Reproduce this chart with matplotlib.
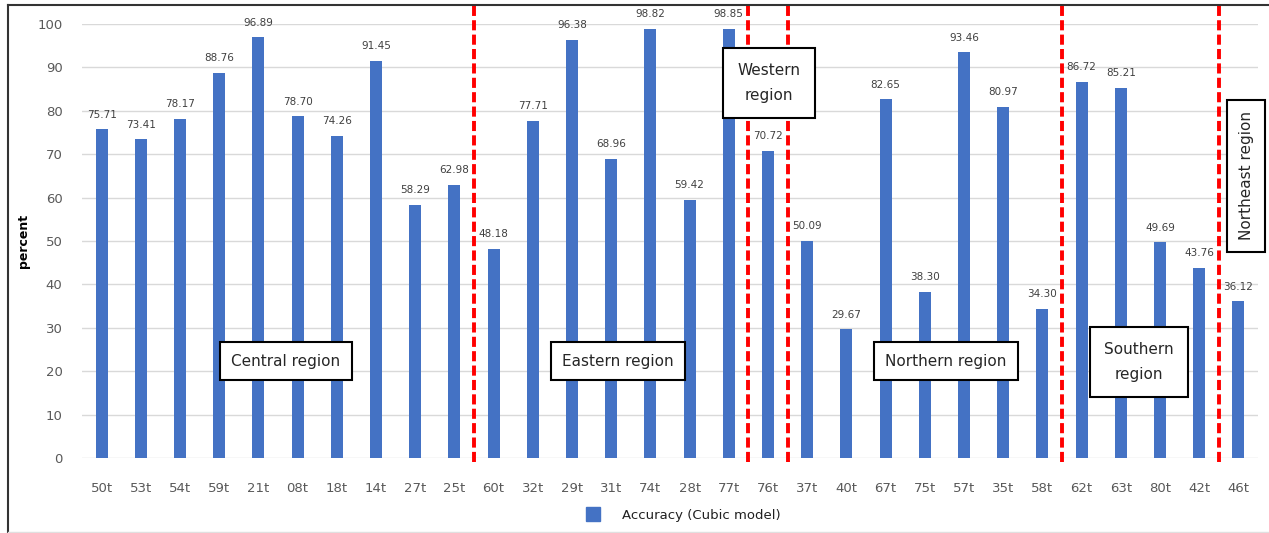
import matplotlib
matplotlib.use("Agg")
import matplotlib.pyplot as plt
from matplotlib.lines import Line2D

# Stations and accuracy of the cubic model (percent)
stations = ["50t", "53t", "54t", "59t", "21t", "08t", "18t", "14t", "27t", "25t",
            "60t", "32t", "29t", "31t", "74t", "28t", "77t", "76t", "37t", "40t",
            "67t", "75t", "57t", "35t", "58t", "62t", "63t", "80t", "42t", "46t"]
accuracy = [75.71, 73.41, 78.17, 88.76, 96.89, 78.70, 74.26, 91.45, 58.29, 62.98,
            48.18, 77.71, 96.38, 68.96, 98.82, 59.42, 98.85, 70.72, 50.09, 29.67,
            82.65, 38.30, 93.46, 80.97, 34.30, 86.72, 85.21, 49.69, 43.76, 36.12]

# Region boundaries (number of stations before each divider)
region_breaks = [10, 17, 18, 25, 29]
region_names = ["Central region", "Eastern region", "Western\nregion",
                "Northern region", "Southern\nregion", "Northeast region"]

bar_color = "#4472C4"
text_gray = "#595959"

fig = plt.figure(figsize=(12.69, 5.33), dpi=100)
ax = fig.add_axes([82 / 1269, 1 - 458 / 533, 1176 / 1269, 434 / 533])

x = list(range(len(stations)))
bars = ax.bar(x, accuracy, width=0.31, color=bar_color, zorder=2,
              label="Accuracy (Cubic model)")

for xi, v in zip(x, accuracy):
    ax.annotate(f"{v:.2f}", (xi, v), xytext=(0, 7), textcoords="offset points",
                ha="center", va="bottom", fontsize=7.5, color="#404040", zorder=4)

ax.set_xlim(-0.5, len(stations) - 0.5)
ax.set_ylim(0, 100)
ax.set_yticks(range(0, 101, 10))
ax.set_xticks(x)
ax.set_xticklabels(stations)
ax.tick_params(axis="both", length=0, labelsize=9.5, labelcolor=text_gray)
ax.tick_params(axis="x", pad=17)
ax.tick_params(axis="y", pad=14)
ax.yaxis.grid(True, color="#D9D9D9", linewidth=1, zorder=0)
ax.set_axisbelow(True)
for s in ax.spines.values():
    s.set_visible(False)

ax.set_ylabel("percent", fontsize=9, color="black", fontweight="bold", labelpad=5)

# Region dividers, running from the top of the frame down to the baseline
for b in region_breaks:
    ax.plot([b - 0.5, b - 0.5], [-1, 104.4], color="#FF0000", linewidth=2.8,
            linestyle=(0, (2.6, 1.1)), zorder=3, clip_on=False)

# Region labels
box = dict(boxstyle="square,pad=0.75", facecolor="white", edgecolor="black",
           linewidth=1.5)
label_pos = [(4.7, 22.3, 0), (13.17, 22.3, 0), (17.03, 86.4, 0),
             (21.54, 22.3, 0), (26.46, 22.1, 0), (29.2, 65.0, 90)]
for name, (lx, ly, rot) in zip(region_names, label_pos):
    pad_box = dict(box)
    if "\n" in name:
        pad_box["boxstyle"] = "square,pad=0.95"
    ax.text(lx, ly, name, ha="center", va="center", fontsize=11, color="#262626",
            rotation=rot, bbox=pad_box, zorder=5, linespacing=1.9, clip_on=False)

# Legend below the plot
handle = Line2D([], [], marker="s", linestyle="none", markersize=10,
                markerfacecolor=bar_color, markeredgecolor=bar_color)
fig.legend([handle], ["Accuracy (Cubic model)"], loc="center",
           bbox_to_anchor=(680 / 1269, 1 - 515 / 533), frameon=False,
           fontsize=9.5, handletextpad=1.2, labelcolor="#202020")

# Outer frame
fig.add_artist(Line2D([8 / 1269, 8 / 1269], [0, 1 - 5 / 533],
                      transform=fig.transFigure, color="#333333", linewidth=1.5))
fig.add_artist(Line2D([8 / 1269, 1], [1 - 5 / 533, 1 - 5 / 533],
                      transform=fig.transFigure, color="#333333", linewidth=1.5))
fig.add_artist(Line2D([8 / 1269, 1], [1.5 / 533, 1.5 / 533],
                      transform=fig.transFigure, color="#E0E0E0", linewidth=1))

fig.savefig("out.png", dpi=100)
